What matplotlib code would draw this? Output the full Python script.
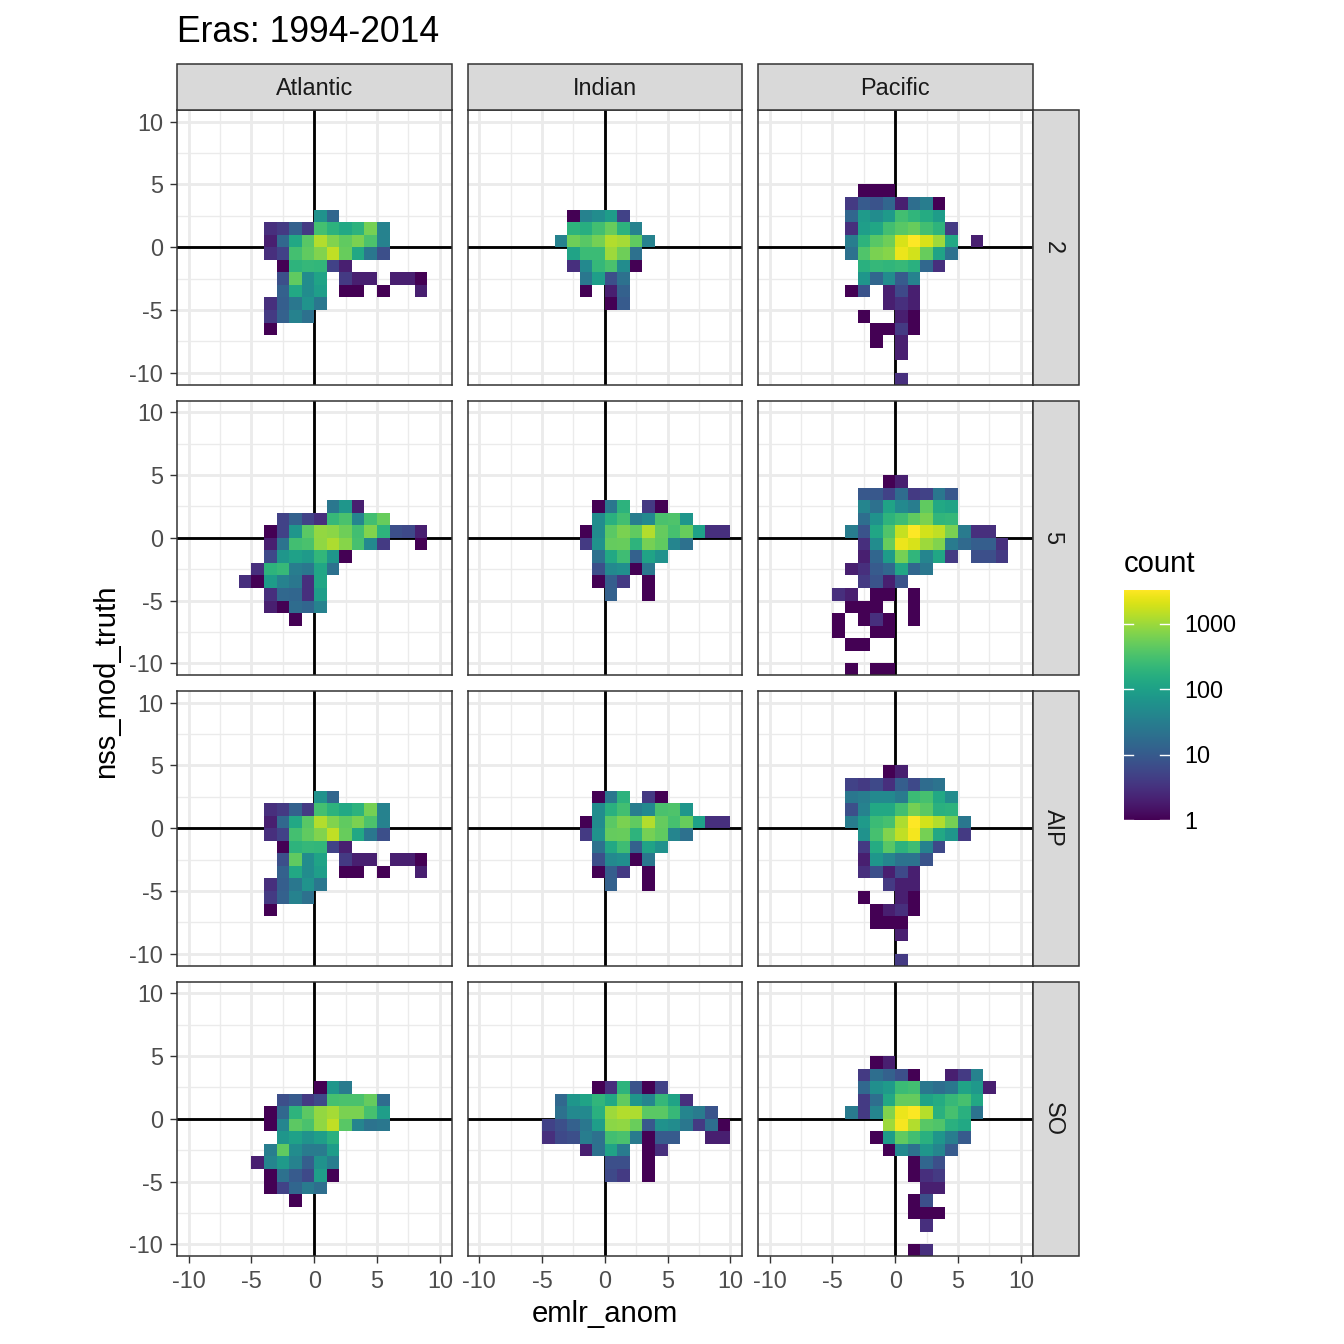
import matplotlib

matplotlib.use("Agg")
import matplotlib.pyplot as plt
import numpy as np
from matplotlib.colors import LogNorm
from matplotlib.patches import Rectangle

atlantic_2 = {
    2: (0, [60, 14]),
    1: (-4, [3, 4, 12, 4, 290, 180, 130, 180, 600, 35]),
    0: (-4, [2, 15, 130, 400, 1300, 700, 450, 650, 330, 35]),
    -1: (-4, [3, 5, 290, 450, 700, 1500, 500, 130, 25, 7]),
    -2: (-3, [1, 190, 220, 210, 5, 2]),
    -3: (-3, [7, 450, 50, 110, 0, 4, 2, 2, 0, 2, 2, 1]),
    -4: (-3, [12, 130, 50, 90, 0, 1, 1, 0, 1, 0, 0, 2]),
    -5: (-4, [3, 11, 25, 65, 25]),
    -6: (-4, [4, 12, 35, 20]),
    -7: (-4, [1]),
}
indian_2 = {
    2: (-3, [1, 35, 50, 85, 5]),
    1: (-3, [190, 160, 280, 500, 180, 35]),
    0: (-4, [35, 550, 400, 600, 1300, 1100, 450, 35]),
    -1: (-3, [110, 250, 250, 1000, 550, 20]),
    -2: (-3, [3, 45, 220, 320, 50, 1]),
    -3: (-2, [25, 90, 7, 20]),
    -4: (-2, [1, 0, 2, 12]),
    -5: (0, [1, 10]),
}
pacific_2 = {
    4: (-3, [1, 1, 1]),
    3: (-4, [4, 10, 8, 14, 2, 18, 30, 1]),
    2: (-4, [14, 80, 50, 80, 280, 200, 140, 85]),
    1: (-4, [3, 90, 120, 280, 400, 500, 280, 190, 4]),
    0: (-4, [30, 190, 400, 550, 2000, 3300, 2000, 1000, 130, 0, 2]),
    -1: (-4, [20, 350, 650, 750, 2600, 1900, 500, 110, 20]),
    -2: (-3, [170, 220, 200, 230, 170, 15, 3]),
    -3: (-3, [70, 14, 50, 10, 35]),
    -4: (-4, [1, 8, 0, 2, 6, 2]),
    -5: (-1, [2, 3, 2]),
    -6: (-3, [1, 0, 0, 2, 1]),
    -7: (-2, [1, 1, 4, 1]),
    -8: (-2, [1, 0, 2]),
    -9: (0, [2]),
    -11: (0, [3]),
}
atlantic_5 = {
    2: (1, [25, 70, 2]),
    1: (-3, [5, 12, 5, 3, 230, 320, 40, 280, 500]),
    0: (-4, [1, 5, 70, 420, 900, 800, 550, 280, 700, 190, 7, 6, 2]),
    -1: (-4, [2, 22, 280, 320, 850, 1200, 750, 300, 45, 4, 0, 0, 1]),
    -2: (-4, [6, 70, 100, 80, 210, 70, 1]),
    -3: (-5, [3, 190, 230, 30, 25, 120, 20]),
    -4: (-6, [3, 1, 85, 35, 25, 3, 120]),
    -5: (-4, [3, 15, 14, 3, 90]),
    -6: (-4, [2, 1, 17, 14, 35]),
    -7: (-2, [1]),
}
indian_5 = {
    2: (-1, [1, 25, 180, 0, 4, 1]),
    1: (-1, [50, 170, 280, 30, 45, 320, 340, 70]),
    0: (-2, [1, 50, 420, 650, 450, 1300, 480, 300, 500, 100, 3, 3]),
    -1: (-2, [4, 60, 480, 500, 190, 600, 450, 40, 20]),
    -2: (-1, [20, 130, 270, 12, 110, 60]),
    -3: (-1, [7, 45, 55, 1, 25]),
    -4: (-1, [1, 11, 4, 0, 1]),
    -5: (0, [12, 0, 0, 1]),
}
pacific_5 = {
    4: (-1, [1, 2]),
    3: (-3, [9, 9, 5, 17, 4, 5, 25, 9]),
    2: (-3, [40, 20, 110, 45, 30, 450, 130, 110]),
    1: (-3, [18, 60, 190, 270, 450, 650, 200, 220]),
    0: (-4, [30, 8, 120, 350, 1600, 3300, 1900, 1500, 650, 28, 3, 3]),
    -1: (-3, [3, 50, 500, 2600, 2000, 1000, 700, 28, 16, 11, 11, 3]),
    -2: (-3, [2, 14, 85, 600, 200, 40, 120, 4, 0, 7, 7, 4]),
    -3: (-4, [2, 3, 10, 15, 120, 14, 25]),
    -4: (-3, [4, 8, 2, 8]),
    -5: (-5, [3, 2, 0, 1, 1, 0, 1]),
    -6: (-4, [1, 1, 1, 0, 0, 1]),
    -7: (-5, [1, 0, 1, 3, 1, 0, 1]),
    -8: (-5, [1, 0, 0, 1, 1]),
    -9: (-4, [1, 1]),
    -11: (-4, [1, 0, 1, 1]),
}
atlantic_aip = atlantic_2
indian_aip = indian_5
pacific_aip = {
    4: (-1, [1, 2]),
    3: (-4, [5, 4, 6, 3, 11, 6, 17, 22]),
    2: (-4, [25, 30, 45, 45, 28, 250, 300, 130, 50]),
    1: (-4, [7, 35, 130, 130, 280, 600, 420, 170, 180]),
    0: (-4, [30, 80, 250, 300, 1200, 3300, 1900, 1300, 600, 25]),
    -1: (-3, [60, 300, 700, 1500, 2900, 600, 130, 70, 4]),
    -2: (-3, [4, 140, 400, 180, 270, 35, 6]),
    -3: (-3, [2, 70, 40, 22, 22, 8]),
    -4: (-3, [3, 7, 2, 6, 2]),
    -5: (-1, [4, 2, 2]),
    -6: (-3, [1, 0, 0, 2, 1]),
    -7: (-2, [1, 2, 3, 1]),
    -8: (-2, [1, 1, 1]),
    -9: (0, [2]),
    -11: (0, [4]),
}
atlantic_so = {
    2: (0, [1, 70, 28]),
    1: (-3, [7, 10, 4, 6, 300, 320, 320, 480, 17]),
    0: (-4, [1, 15, 190, 430, 900, 1100, 650, 650, 300, 90]),
    -1: (-4, [1, 40, 430, 320, 850, 1500, 400, 40, 22, 25]),
    -2: (-3, [70, 100, 65, 90, 170]),
    -3: (-4, [30, 450, 50, 28, 28, 85]),
    -4: (-5, [2, 40, 80, 35, 11, 60, 30]),
    -5: (-4, [1, 20, 10, 6, 90, 1]),
    -6: (-4, [1, 5, 14, 28, 18]),
    -7: (-2, [1]),
}
indian_so = {
    2: (-1, [1, 3, 190, 8, 1, 5]),
    1: (-4, [15, 70, 110, 200, 130, 450, 70, 40, 220, 110, 3]),
    0: (-4, [20, 45, 45, 170, 1000, 1300, 1200, 420, 420, 230, 40, 28, 8]),
    -1: (-5, [5, 7, 12, 25, 90, 800, 850, 520, 9, 60, 50, 25, 4, 18, 1]),
    -2: (-5, [3, 6, 7, 30, 20, 280, 320, 28, 1, 10, 10, 0, 0, 2, 2]),
    -3: (-2, [2, 20, 110, 28, 0, 1, 3]),
    -4: (0, [7, 7, 0, 1]),
    -5: (0, [6, 4, 0, 1]),
}
pacific_so = {
    4: (-2, [1, 2]),
    3: (-3, [4, 18, 12, 7, 1, 0, 0, 2, 4, 35]),
    2: (-3, [15, 55, 80, 250, 280, 25, 18, 25, 110, 75, 2]),
    1: (-3, [4, 18, 130, 480, 480, 110, 140, 230, 300, 130]),
    0: (-4, [28, 4, 40, 700, 2600, 3100, 1350, 170, 300, 170, 22]),
    -1: (-1, [1000, 3000, 1300, 400, 350, 170, 130]),
    -2: (-2, [1, 85, 450, 280, 170, 70, 30, 10]),
    -3: (-1, [1, 45, 20, 70, 40, 10]),
    -4: (1, [1, 14, 7]),
    -5: (1, [1, 3, 4]),
    -6: (2, [2, 2]),
    -7: (1, [1, 7]),
    -8: (1, [1, 1, 1]),
    -9: (2, [3]),
    -11: (1, [1, 3]),
}

basins = ["Atlantic", "Indian", "Pacific"]
gamma_labels = ["2", "5", "AIP", "SO"]
panels = [
    [atlantic_2, indian_2, pacific_2],
    [atlantic_5, indian_5, pacific_5],
    [atlantic_aip, indian_aip, pacific_aip],
    [atlantic_so, indian_so, pacific_so],
]
tick_values = [-10, -5, 0, 5, 10]
minor_values = [-7.5, -2.5, 2.5, 7.5]
legend_values = [1, 10, 100, 1000]
max_count = 3300

SIZE = 1344
COL_LEFT = [177, 467.5, 758]
ROW_TOP = [110, 400.5, 691, 981.5]
PANEL = 274.5
STRIP = 45.5
BORDER = "#333333"
NORM = LogNorm(vmin=1, vmax=max_count)

plt.rcParams["font.family"] = ["Liberation Sans", "DejaVu Sans"]
plt.rcParams["axes.unicode_minus"] = False


def add_axes_px(fig, left, top, width, height):
    return fig.add_axes([left / SIZE, 1 - (top + height) / SIZE, width / SIZE, height / SIZE])


def rows_to_grid(rows):
    grid = np.zeros((22, 22))
    for y_bin, (x_start, counts) in rows.items():
        for offset, count in enumerate(counts):
            grid[y_bin + 11, x_start + offset + 11] = count
    return np.ma.masked_where(grid <= 0, grid)


def draw_panel(ax, rows, show_x, show_y):
    edges = np.arange(-11, 12)
    ax.set_facecolor("white")
    ax.set_axisbelow(True)
    for value in minor_values:
        ax.axvline(value, color="#EBEBEB", linewidth=1.0, zorder=1)
        ax.axhline(value, color="#EBEBEB", linewidth=1.0, zorder=1)
    for value in tick_values:
        ax.axvline(value, color="#EBEBEB", linewidth=2.05, zorder=1)
        ax.axhline(value, color="#EBEBEB", linewidth=2.05, zorder=1)
    ax.axhline(0, color="black", linewidth=2.05, zorder=2)
    ax.axvline(0, color="black", linewidth=2.05, zorder=2)
    ax.pcolormesh(
        edges, edges, rows_to_grid(rows), cmap="viridis", norm=NORM,
        edgecolors="none", antialiased=False, zorder=3,
    )
    ax.set_xlim(-10.93, 10.93)
    ax.set_ylim(-10.93, 10.93)
    ax.set_xticks(tick_values if show_x else [])
    ax.set_yticks(tick_values if show_y else [])
    ax.tick_params(length=5, width=1.0, color="#333333", labelcolor="#4D4D4D", labelsize=16.9)
    ax.tick_params(axis="x", pad=5.2)
    ax.tick_params(axis="y", pad=5.2)
    for spine in ax.spines.values():
        spine.set_color(BORDER)
        spine.set_linewidth(1.1)
        spine.set_zorder(5)


def draw_strip(fig, left, top, width, height, label, rotation=0, dx=0.5, dy=0.5):
    ax = add_axes_px(fig, left, top, width, height)
    ax.set_axis_off()
    ax.add_patch(
        Rectangle((0, 0), 1, 1, transform=ax.transAxes, facecolor="#D9D9D9",
                  edgecolor=BORDER, linewidth=1.1, clip_on=False)
    )
    ax.text(dx, dy, label, transform=ax.transAxes, ha="center", va="center",
            rotation=rotation, fontsize=16.9, color="#1A1A1A")


def draw_legend(fig):
    ax = add_axes_px(fig, 1124, 590, 45.5, 230)
    gradient = np.linspace(0, np.log10(max_count), 256).reshape(-1, 1)
    ax.imshow(gradient, origin="lower", aspect="auto", cmap="viridis",
              extent=[0, 1, 0, np.log10(max_count)])
    for value in legend_values:
        level = np.log10(value)
        ax.plot([0, 0.2], [level, level], color="white", linewidth=1.0, clip_on=False)
        ax.plot([0.8, 1], [level, level], color="white", linewidth=1.0, clip_on=False)
        ax.annotate(str(value), (1, level), xytext=(15 * 0.72, -2 * 0.72), textcoords="offset points",
                    va="center", ha="left", fontsize=16.9, color="black", annotation_clip=False)
    ax.set_xlim(0, 1)
    ax.set_ylim(0, np.log10(max_count))
    ax.set_axis_off()
    fig.text(1124 / SIZE, 1 - 564 / SIZE, "count", fontsize=21.1, ha="left", va="center")


def main():
    fig = plt.figure(figsize=(13.44, 13.44), dpi=100, facecolor="white")

    for i, row in enumerate(panels):
        for j, rows in enumerate(row):
            ax = add_axes_px(fig, COL_LEFT[j], ROW_TOP[i], PANEL, PANEL)
            draw_panel(ax, rows, i == len(panels) - 1, j == 0)

    for j, label in enumerate(basins):
        draw_strip(fig, COL_LEFT[j], ROW_TOP[0] - STRIP - 0.5, PANEL, STRIP, label, dy=0.46)
    for i, label in enumerate(gamma_labels):
        draw_strip(fig, COL_LEFT[2] + PANEL + 0.5, ROW_TOP[i], STRIP, PANEL, label, rotation=-90, dx=0.44)

    fig.text(177 / SIZE, 1 - 33 / SIZE, "Eras: 1994-2014", fontsize=25.6, ha="left", va="center")
    fig.text(605 / SIZE, 1 - 1314 / SIZE, "emlr_anom", fontsize=21.1, ha="center", va="center")
    fig.text(106 / SIZE, 1 - 681 / SIZE, "nss_mod_truth", fontsize=21.1, ha="center", va="center", rotation=90)

    draw_legend(fig)
    fig.savefig("out.png", dpi=100)
    plt.close(fig)


if __name__ == "__main__":
    main()
